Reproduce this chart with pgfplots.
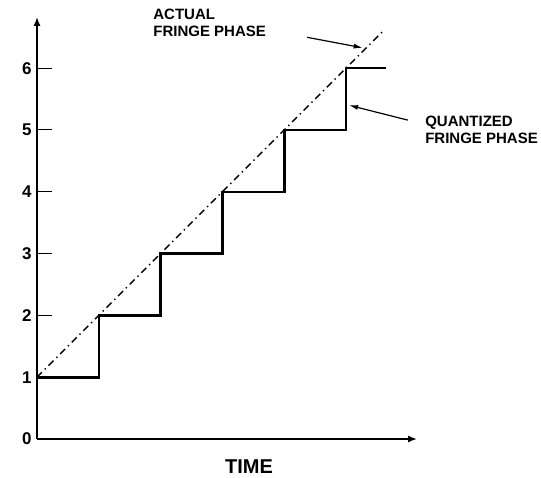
\documentclass[border=0pt]{standalone}
\usepackage{fontspec}
\setmainfont{Liberation Sans}
\usepackage{pgfplots}
\pgfplotsset{compat=1.18}
\usetikzlibrary{arrows.meta}
\begin{document}
\begin{tikzpicture}
\begin{axis}[
  anchor=origin, at={(0pt,0pt)},
  x=61.8pt, y=61.8pt,
  xmin=0, xmax=6.15, ymin=0, ymax=6.83,
  axis lines=left,
  axis line style={line width=1.6pt, -{Latex[length=9pt,width=7pt]}},
  xtick=\empty,
  ytick={0,1,2,3,4,5,6},
  tick align=inside,
  major tick length=15pt,
  tick style={line width=1pt, black},
  yticklabel style={font=\bfseries\fontsize{17}{17}\selectfont, xshift=-2pt},
  /pgf/number format/assume math mode=true,
  clip=false,
]
\addplot[const plot, black, line width=2.6pt] coordinates {(0,1) (1,2) (2,3) (3,4) (4,5) (5,6) (5.65,6)};
\addplot[black, line width=1.4pt, dash pattern=on 7pt off 4pt on 1.4pt off 4pt] coordinates {(0,1) (5.62,6.62)};
\node[anchor=north west, align=left, font=\bfseries\fontsize{15}{17}\selectfont, inner sep=0pt] at (axis cs:1.88,6.96) {ACTUAL\\FRINGE PHASE};
\node[anchor=north west, align=left, font=\bfseries\fontsize{15}{17}\selectfont, inner sep=0pt] at (axis cs:6.28,5.23) {QUANTIZED\\FRINGE PHASE};
\draw[line width=1.2pt, -{Latex[length=9pt,width=5pt]}] (axis cs:4.37,6.50) -- (axis cs:5.27,6.33);
\draw[line width=1.2pt, -{Latex[length=9pt,width=5pt]}] (axis cs:6.0,5.16) -- (axis cs:5.05,5.40);
\node[font=\bfseries\fontsize{20}{20}\selectfont] at (axis cs:3.43,-0.45) {TIME};
\end{axis}
\pgfresetboundingbox
\path[use as bounding box] (-37pt,-38pt) rectangle (504pt,439pt);
\end{tikzpicture}
\end{document}
